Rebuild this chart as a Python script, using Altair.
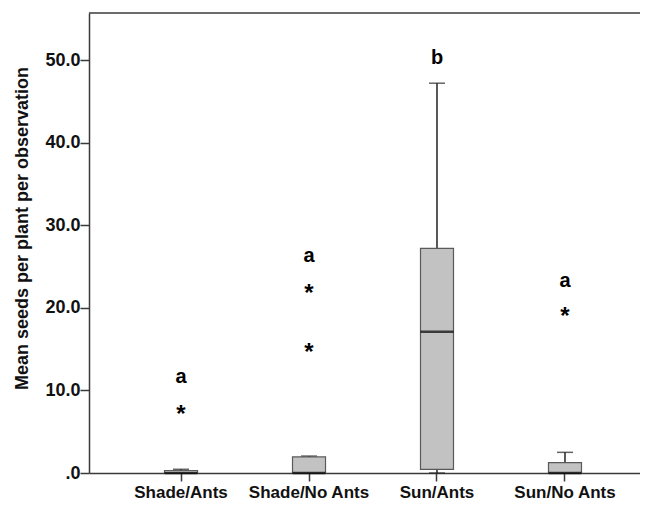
import altair as alt
import pandas as pd

categories = ["Shade/Ants", "Shade/No Ants", "Sun/Ants", "Sun/No Ants"]
whisker_low = [0.0, 0.0, 0.0, 0.0]
q1 = [0.0, 0.0, 0.45, 0.0]
median = [0.0, 0.0, 17.1, 0.0]
q3 = [0.3, 1.95, 27.2, 1.25]
whisker_high = [0.45, 2.05, 47.2, 2.5]

outlier_cat = ["Shade/Ants", "Shade/No Ants", "Shade/No Ants", "Sun/No Ants"]
outlier_val = [7.75, 22.4, 15.3, 19.6]

letters = ["a", "a", "b", "a"]
letter_y = [10.9, 25.5, 49.5, 22.5]

y_ticks = [0, 10, 20, 30, 40, 50]
YMAX = 55.7

FONT = "Liberation Sans"
AXIS_COLOR = "#3a3a3a"

box_df = pd.DataFrame({
    "cat": categories, "lo": whisker_low, "q1": q1, "med": median,
    "q3": q3, "hi": whisker_high,
})
out_df = pd.DataFrame({"cat": outlier_cat, "val": outlier_val})
let_df = pd.DataFrame({"cat": categories, "letter": letters, "y": letter_y})
top_df = pd.DataFrame({"y": [YMAX]})

x_scale = alt.Scale(domain=categories, paddingInner=0.5, paddingOuter=0.4025, align=0.5825)
y_scale = alt.Scale(domain=[0, YMAX], nice=False, zero=False)

x_enc = alt.X("cat:N", scale=x_scale, sort=categories, title=None,
              axis=alt.Axis(labelAngle=0, tickSize=8, labelPadding=3))
y_axis = alt.Axis(values=y_ticks, tickSize=9, labelPadding=0, labelFontSize=18,
                  labelExpr="datum.value == 0 ? '.0' : format(datum.value, '.1f')",
                  title="Mean seeds per plant per observation",
                  titleX=-67, titleY=215, titleAngle=270, titleAlign="center",
                  titleBaseline="middle")

base = alt.Chart(box_df)

whisk_lo = base.mark_rule(color="#222222", strokeWidth=1.5).encode(
    x=x_enc, y=alt.Y("lo:Q", scale=y_scale, axis=y_axis), y2="q1:Q")
whisk_hi = base.mark_rule(color="#222222", strokeWidth=1.5).encode(
    x=x_enc, y=alt.Y("q3:Q", scale=y_scale), y2="hi:Q")
cap_lo = base.mark_tick(color="#222222", size=16, thickness=1.5).encode(
    x=x_enc, y=alt.Y("lo:Q", scale=y_scale))
cap_hi = base.mark_tick(color="#222222", size=16, thickness=1.5).encode(
    x=x_enc, y=alt.Y("hi:Q", scale=y_scale))
boxes = base.mark_bar(size=33, fill="#c2c2c2", stroke="#5a5a5a", strokeWidth=1.2).encode(
    x=x_enc, y=alt.Y("q1:Q", scale=y_scale), y2="q3:Q")
meds = base.mark_tick(color="#000000", size=33, thickness=2.6).encode(
    x=x_enc, y=alt.Y("med:Q", scale=y_scale))

stars = alt.Chart(out_df).mark_text(text="*", font=FONT, fontWeight="bold", fontSize=24,
                                    baseline="alphabetic", dy=13, color="#000000").encode(
    x=x_enc, y=alt.Y("val:Q", scale=y_scale))
lets = alt.Chart(let_df).mark_text(font=FONT, fontWeight="bold", fontSize=20,
                                   baseline="alphabetic", color="#000000").encode(
    x=x_enc, y=alt.Y("y:Q", scale=y_scale), text="letter:N")
top_line = alt.Chart(top_df).mark_rule(color=AXIS_COLOR, strokeWidth=1.5).encode(
    y=alt.Y("y:Q", scale=y_scale))

chart = alt.layer(whisk_lo, whisk_hi, cap_lo, cap_hi, boxes, meds, stars, lets, top_line).properties(
    width=551, height=460,
    autosize=alt.AutoSizeParams(type="none"),
    padding={"left": 81, "top": 5, "right": 0, "bottom": 29},
).configure_view(stroke=None).configure_axis(
    grid=False, domainColor=AXIS_COLOR, domainWidth=1.5, tickColor=AXIS_COLOR, tickWidth=1.5,
    labelFont=FONT, labelFontWeight="bold", labelFontSize=17, labelColor="#111111",
    titleFont=FONT, titleFontWeight="bold", titleFontSize=18, titleColor="#111111",
)

chart.save("out.html", embed_options={"renderer": "svg", "actions": False})
